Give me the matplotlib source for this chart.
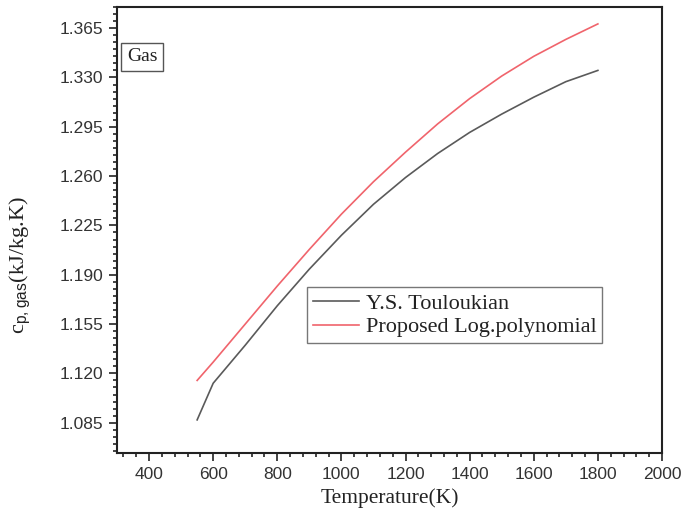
import matplotlib
matplotlib.use("Agg")
import matplotlib.pyplot as plt
from matplotlib.ticker import AutoMinorLocator, FormatStrFormatter

# Specific heat of gas vs temperature
temp_touloukian = [550, 600, 700, 800, 900, 1000, 1100, 1200, 1300, 1400, 1500, 1600, 1700, 1800]
cp_touloukian = [1.087, 1.113, 1.140, 1.168, 1.194, 1.218, 1.240, 1.259, 1.276, 1.291, 1.304, 1.316, 1.327, 1.335]

temp_logpoly = [550, 600, 700, 800, 900, 1000, 1100, 1200, 1300, 1400, 1500, 1600, 1700, 1800]
cp_logpoly = [1.115, 1.128, 1.155, 1.182, 1.208, 1.233, 1.256, 1.277, 1.297, 1.315, 1.331, 1.345, 1.357, 1.368]

series_names = ["Y.S. Touloukian", "Proposed Log.polynomial"]
x_ticks = [400, 600, 800, 1000, 1200, 1400, 1600, 1800, 2000]
y_ticks = [1.085, 1.120, 1.155, 1.190, 1.225, 1.260, 1.295, 1.330, 1.365]

serif = ["Liberation Serif", "DejaVu Serif"]
sans = ["Liberation Sans", "DejaVu Sans"]

plt.rcParams["mathtext.fontset"] = "custom"
plt.rcParams["mathtext.rm"] = "Liberation Sans"

fig = plt.figure(figsize=(6.82, 5.17), dpi=100)
ax = fig.add_axes([117 / 682, 1 - 453 / 517, 545 / 682, 446 / 517])

ax.plot(temp_touloukian, cp_touloukian, color="#5a5a5a", lw=1.2, label=series_names[0])
ax.plot(temp_logpoly, cp_logpoly, color="#f0646c", lw=1.2, label=series_names[1])

ax.set_xlim(300, 2000)
ax.set_ylim(1.0635, 1.380)
ax.set_xticks(x_ticks)
ax.set_yticks(y_ticks)
ax.yaxis.set_major_formatter(FormatStrFormatter("%.3f"))
ax.xaxis.set_minor_locator(AutoMinorLocator(5))
ax.yaxis.set_minor_locator(AutoMinorLocator(7))

ax.tick_params(which="both", direction="out", top=False, right=False, width=1.2, color="#222222")
ax.tick_params(which="major", length=6, labelsize=12.5, labelcolor="#333333", pad=4)
ax.tick_params(which="minor", length=3)
for lbl in ax.get_xticklabels() + ax.get_yticklabels():
    lbl.set_family(sans)
for sp in ax.spines.values():
    sp.set_linewidth(1.5)
    sp.set_color("#222222")

ax.set_xlabel("Temperature(K)", family=serif, fontsize=15.5, color="#222222")
ax.xaxis.set_label_coords(0.5, -0.08)
ax.set_ylabel(r"c$_{\mathrm{p,gas}}$(kJ/kg.K)", family=serif, fontsize=16, color="#222222")
ax.yaxis.set_label_coords(-0.155, 0.42)

ax.text(0.018, 0.888, "Gas", transform=ax.transAxes, family=serif, fontsize=14,
        color="#222222", va="center", ha="left",
        bbox=dict(boxstyle="square,pad=0.28", fc="white", ec="#555555", lw=1.0))

leg = ax.legend(loc="lower left", bbox_to_anchor=(0.349, 0.2466), borderaxespad=0,
                prop={"family": serif, "size": 16}, frameon=True, fancybox=False,
                edgecolor="#555555", handlelength=2.1, handletextpad=0.3,
                borderpad=0.25, labelspacing=0.15)
leg.get_frame().set_linewidth(1.0)
for t in leg.get_texts():
    t.set_color("#222222")

fig.savefig("out.png", dpi=100, facecolor="white")
